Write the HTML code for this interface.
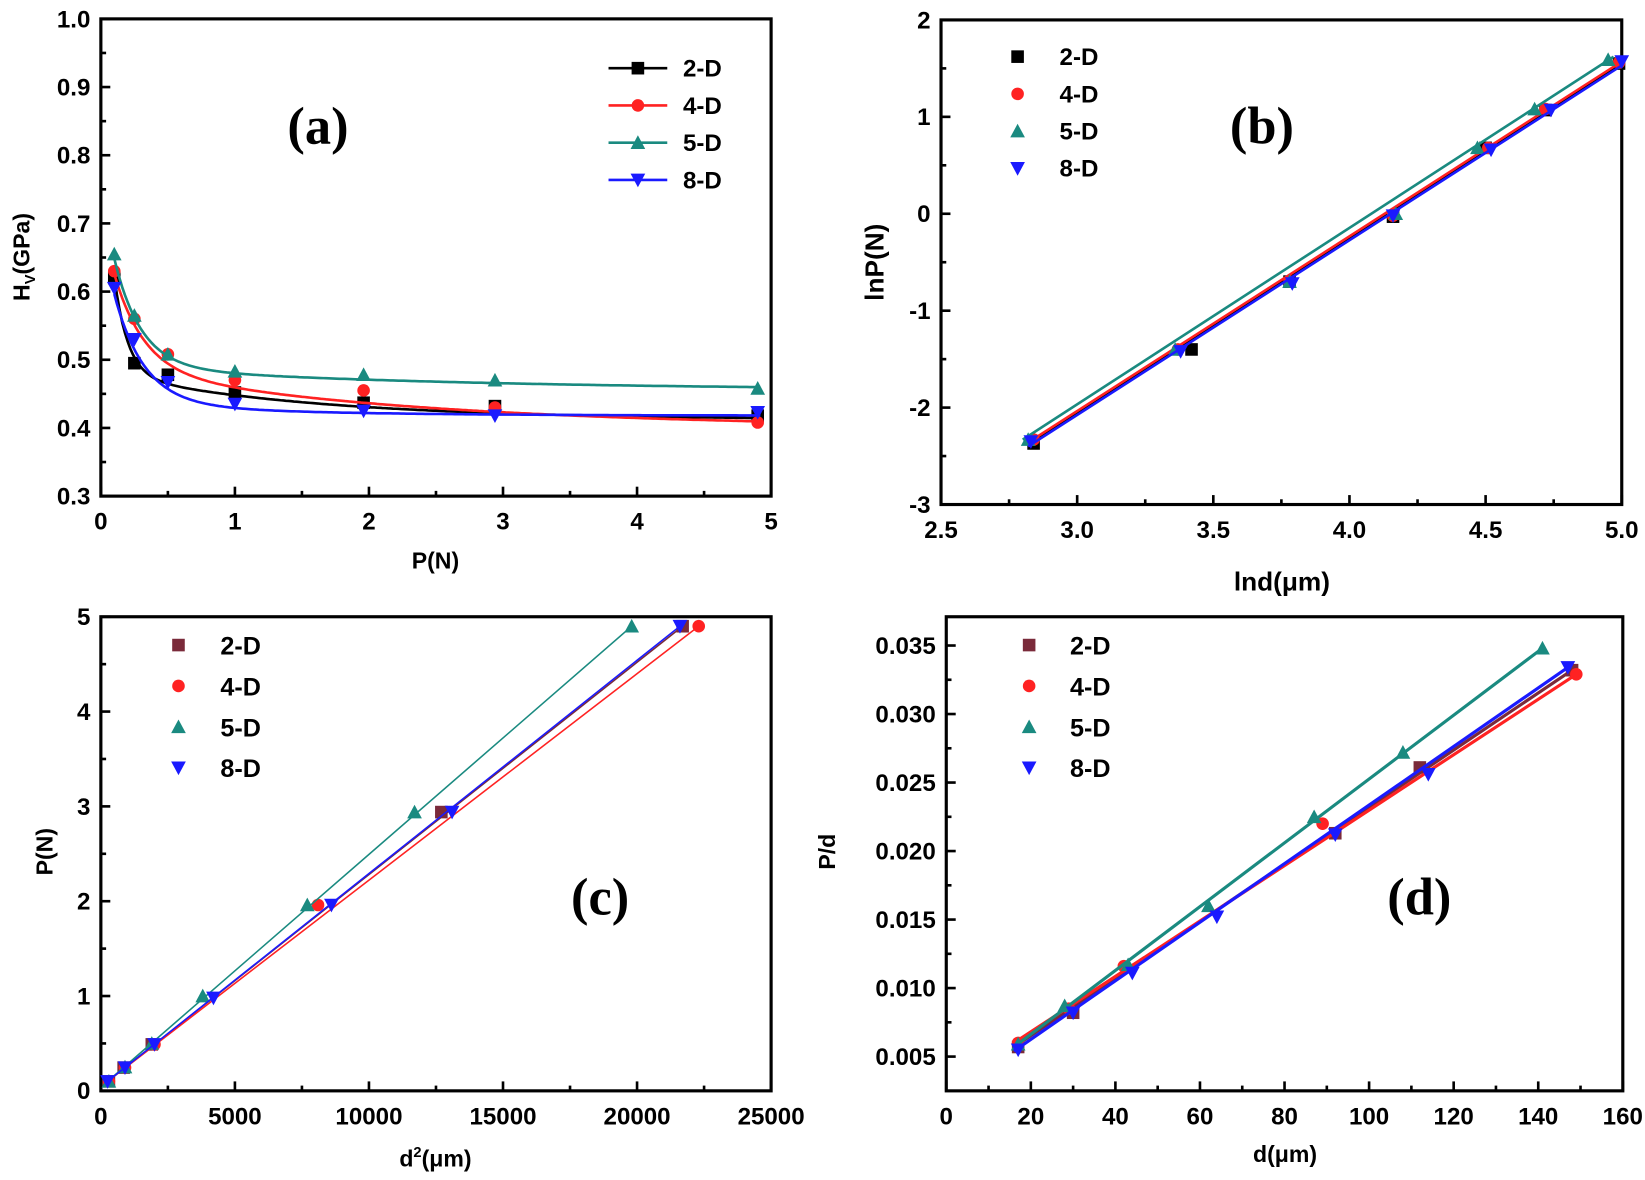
<!DOCTYPE html>
<html><head><meta charset="utf-8"><style>
html,body{margin:0;padding:0;background:#fff}
svg{display:block}
text{font-family:"Liberation Sans",Arial,sans-serif;font-weight:bold}
</style></head><body>
<svg id="s" width="1645" height="1180" viewBox="0 0 1568 1125" xmlns="http://www.w3.org/2000/svg"></svg>
<script>
var S=document.getElementById('s'),H='';
var C={'2':'#000','4':'#f22','5':'#1a8a80','8':'#1a1aff'};
function mk(t,x,y,c,r){r=r||6;
 if(t=='2')return '<rect x="'+(x-r)+'" y="'+(y-r)+'" width="'+2*r+'" height="'+2*r+'" fill="'+c+'"/>';
 if(t=='4')return '<circle cx="'+x+'" cy="'+y+'" r="'+r+'" fill="'+c+'"/>';
 if(t=='5')return '<polygon points="'+x+','+(y-r-1)+' '+(x+r+1)+','+(y+r)+' '+(x-r-1)+','+(y+r)+'" fill="'+c+'"/>';
 return '<polygon points="'+x+','+(y+r+1)+' '+(x+r+1)+','+(y-r)+' '+(x-r-1)+','+(y-r)+'" fill="'+c+'"/>';}
function panel(p){
 var X=function(v){return p.x0+(v-p.xa)/(p.xb-p.xa)*(p.x1-p.x0)},Y=function(v){return p.y0+(v-p.ya)/(p.yb-p.ya)*(p.y1-p.y0)};
 H+='<rect x="'+p.x0+'" y="'+p.y1+'" width="'+(p.x1-p.x0)+'" height="'+(p.y0-p.y1)+'" fill="none" stroke="#000" stroke-width="3"/>';
 p.xt.forEach(function(v,i){var x=X(v);H+='<line x1="'+x+'" y1="'+p.y0+'" x2="'+x+'" y2="'+(p.y0-9)+'" stroke="#000" stroke-width="2.5"/>';
  if(i<p.xt.length-1){var xm=X(v+(p.xt[1]-p.xt[0])/2);H+='<line x1="'+xm+'" y1="'+p.y0+'" x2="'+xm+'" y2="'+(p.y0-5)+'" stroke="#000" stroke-width="2.5"/>';}
  H+='<text x="'+x+'" y="'+(p.y0+32)+'" font-size="23" text-anchor="middle">'+p.xl[i]+'</text>';});
 p.yt.forEach(function(v,i){var y=Y(v);H+='<line x1="'+p.x0+'" y1="'+y+'" x2="'+(p.x0+9)+'" y2="'+y+'" stroke="#000" stroke-width="2.5"/>';
  if(i<p.yt.length-1){var ym=Y(v+(p.yt[1]-p.yt[0])/2);H+='<line x1="'+p.x0+'" y1="'+ym+'" x2="'+(p.x0+5)+'" y2="'+ym+'" stroke="#000" stroke-width="2.5"/>';}
  H+='<text x="'+(p.x0-10)+'" y="'+(y+8)+'" font-size="23" text-anchor="end">'+p.yl[i]+'</text>';});
 p.series.forEach(function(s){var c=s.c||C[s.t];
  if(s.line){var d='';s.line.forEach(function(q,i){d+=(i?'L':'M')+X(q[0]).toFixed(1)+','+Y(q[1]).toFixed(1)});
   H+='<path d="'+d+'" fill="none" stroke="'+c+'" stroke-width="'+(s.w||2.5)+'"/>';}
  s.pts.forEach(function(q){H+=mk(s.t,X(q[0]),Y(q[1]),c)});});
}
var xs=[0.1,0.25,0.5,1,1.96,2.94,4.9];
function zp(ys){return xs.map(function(x,i){return[x,ys[i]]})}
function fc(a,b,c,k,m){var r=[];for(var x=0.1;x<=4.92;x+=0.02)r.push([x,a+b*Math.exp(-(x-0.1)/c)+k*Math.exp(-x/m)]);return r;}
panel({x0:96,x1:735,xa:0,xb:5,y0:473,y1:18,ya:0.3,yb:1.0,
 xt:[0,1,2,3,4,5],xl:['0','1','2','3','4','5'],yt:[0.3,0.4,0.5,0.6,0.7,0.8,0.9,1.0],yl:['0.3','0.4','0.5','0.6','0.7','0.8','0.9','1.0'],
 series:[
 {t:'2',pts:zp([0.62,0.495,0.478,0.452,0.437,0.432,0.418]),line:fc(0.412,0.145,0.1,0.07,1.5)},
 {t:'4',pts:zp([0.63,0.56,0.508,0.47,0.455,0.43,0.408]),line:fc(0.40,0.14,0.22,0.09,2.2)},
 {t:'5',pts:zp([0.655,0.565,0.508,0.483,0.478,0.47,0.458]),line:fc(0.455,0.16,0.2,0.035,2.5)},
 {t:'8',pts:zp([0.605,0.53,0.467,0.435,0.425,0.418,0.423]),line:fc(0.418,0.16,0.22,0.02,1.2)}
 ]});
function L(x0,y0,x1,y1){return[[x0,y0],[x1,y1]]}
panel({x0:897,x1:1546,xa:2.5,xb:5.0,y0:481,y1:19,ya:-3,yb:2,
 xt:[2.5,3,3.5,4,4.5,5],xl:['2.5','3.0','3.5','4.0','4.5','5.0'],yt:[-3,-2,-1,0,1,2],yl:['-3','-2','-1','0','1','2'],
 series:[
 {t:'2',pts:[[2.84,-2.37],[3.42,-1.4],[3.78,-0.7],[4.16,-0.03],[4.5,0.68],[4.72,1.07],[4.99,1.55]],line:L(2.82,-2.38,5.0,1.55)},
 {t:'4',pts:[[2.84,-2.33],[3.37,-1.4],[3.78,-0.7],[4.16,-0.02],[4.51,0.68],[4.72,1.08],[4.99,1.56]],line:L(2.82,-2.36,5.0,1.57)},
 {t:'5',pts:[[2.82,-2.33],[3.36,-1.4],[3.78,-0.7],[4.17,0],[4.47,0.68],[4.68,1.08],[4.95,1.59]],line:L(2.8,-2.33,4.97,1.62)},
 {t:'8',pts:[[2.83,-2.35],[3.38,-1.42],[3.79,-0.72],[4.16,-0.02],[4.52,0.66],[4.74,1.07],[5.0,1.57]],line:L(2.82,-2.4,5.0,1.53)}
 ]});
panel({x0:96,x1:735,xa:0,xb:25000,y0:1040,y1:588,ya:0,yb:5,
 xt:[0,5000,10000,15000,20000,25000],xl:['0','5000','10000','15000','20000','25000'],yt:[0,1,2,3,4,5],yl:['0','1','2','3','4','5'],
 series:[
 {t:'2',c:'#7a2a3a',pts:[[300,0.1],[850,0.245],[1900,0.49],[12700,2.94],[21700,4.9]],line:L(250,0.1,21700,4.9),w:1.5},
 {t:'4',pts:[[300,0.1],[900,0.245],[2000,0.49],[8100,1.96],[22300,4.9]],line:L(250,0.1,22300,4.9),w:1.5},
 {t:'5',pts:[[300,0.1],[900,0.25],[1900,0.5],[3800,1],[7700,1.96],[11700,2.94],[19800,4.9]],line:L(250,0.1,19800,4.9),w:1.5},
 {t:'8',pts:[[250,0.1],[900,0.245],[2000,0.49],[4200,0.98],[8600,1.96],[13100,2.94],[21600,4.9]],line:L(250,0.1,21600,4.9),w:1.5}
 ]});
panel({x0:902,x1:1547,xa:0,xb:160,y0:1040,y1:588,ya:0.0025,yb:0.0371,
 xt:[0,20,40,60,80,100,120,140,160],xl:['0','20','40','60','80','100','120','140','160'],yt:[0.005,0.01,0.015,0.02,0.025,0.03,0.035],yl:['0.005','0.010','0.015','0.020','0.025','0.030','0.035'],
 series:[
 {t:'2',c:'#7a2a3a',pts:[[17,0.0057],[30,0.0082],[92,0.0213],[112,0.0261],[148,0.0332]],line:L(16,0.0057,148,0.0332),w:3},
 {t:'4',pts:[[17,0.006],[29,0.0085],[42,0.0116],[89,0.022],[149,0.0329]],line:L(16,0.006,149,0.0329),w:3},
 {t:'5',pts:[[17,0.0059],[28,0.0087],[43,0.0117],[62,0.016],[87,0.0225],[108,0.0272],[141,0.0348]],line:L(16,0.0057,141,0.0348),w:3},
 {t:'8',pts:[[17,0.0055],[30,0.0082],[44,0.0111],[64,0.0152],[92,0.0212],[114,0.0256],[147,0.0334]],line:L(16,0.0054,147,0.0334),w:3}
 ]});
var nm=['2','4','5','8'];
nm.forEach(function(t,i){var y=65+i*35.5;H+='<line x1="580" y1="'+y+'" x2="636" y2="'+y+'" stroke="'+C[t]+'" stroke-width="2.5"/>'+mk(t,608,y,C[t])+'<text x="651" y="'+(y+8)+'" font-size="23">'+t+'-D</text>';});
nm.forEach(function(t,i){var y=54+i*35.5;H+=mk(t,970,y,C[t])+'<text x="1010" y="'+(y+8)+'" font-size="23">'+t+'-D</text>';});
nm.forEach(function(t,i){var y=615+i*39;var c=t=='2'?'#7a2a3a':C[t];H+=mk(t,170,y,c)+'<text x="210" y="'+(y+9)+'" font-size="24" font-weight="normal">'+t+'-D</text>';});
nm.forEach(function(t,i){var y=615+i*39;var c=t=='2'?'#7a2a3a':C[t];H+=mk(t,981,y,c)+'<text x="1020" y="'+(y+9)+'" font-size="24" font-weight="normal">'+t+'-D</text>';});
function PL(x,y,s){H+='<text x="'+x+'" y="'+y+'" font-size="50" text-anchor="middle" style="font-family:\'Liberation Serif\',serif;font-weight:bold">'+s+'</text>';}
PL(303,137,'(a)');PL(1203,137,'(b)');PL(572,872,'(c)');PL(1353,872,'(d)');
H+='<text x="415" y="542" font-size="22" text-anchor="middle">P(N)</text>';
H+='<text x="1222" y="563" font-size="25" text-anchor="middle">lnd(μm)</text>';
H+='<text x="415" y="1112" font-size="22" text-anchor="middle">d<tspan font-size="14" dy="-9">2</tspan><tspan dy="9">(μm)</tspan></text>';
H+='<text x="1225" y="1108" font-size="22" text-anchor="middle">d(μm)</text>';
H+='<text transform="translate(28,245) rotate(-90)" font-size="22" text-anchor="middle">H<tspan font-size="14" dy="5">V</tspan><tspan dy="-5">(GPa)</tspan></text>';
H+='<text transform="translate(842,250) rotate(-90)" font-size="25" text-anchor="middle">lnP(N)</text>';
H+='<text transform="translate(50,812) rotate(-90)" font-size="22" text-anchor="middle">P(N)</text>';
H+='<text transform="translate(796,812) rotate(-90)" font-size="22" text-anchor="middle">P/d</text>';
S.innerHTML=H;
</script>
</body></html>
